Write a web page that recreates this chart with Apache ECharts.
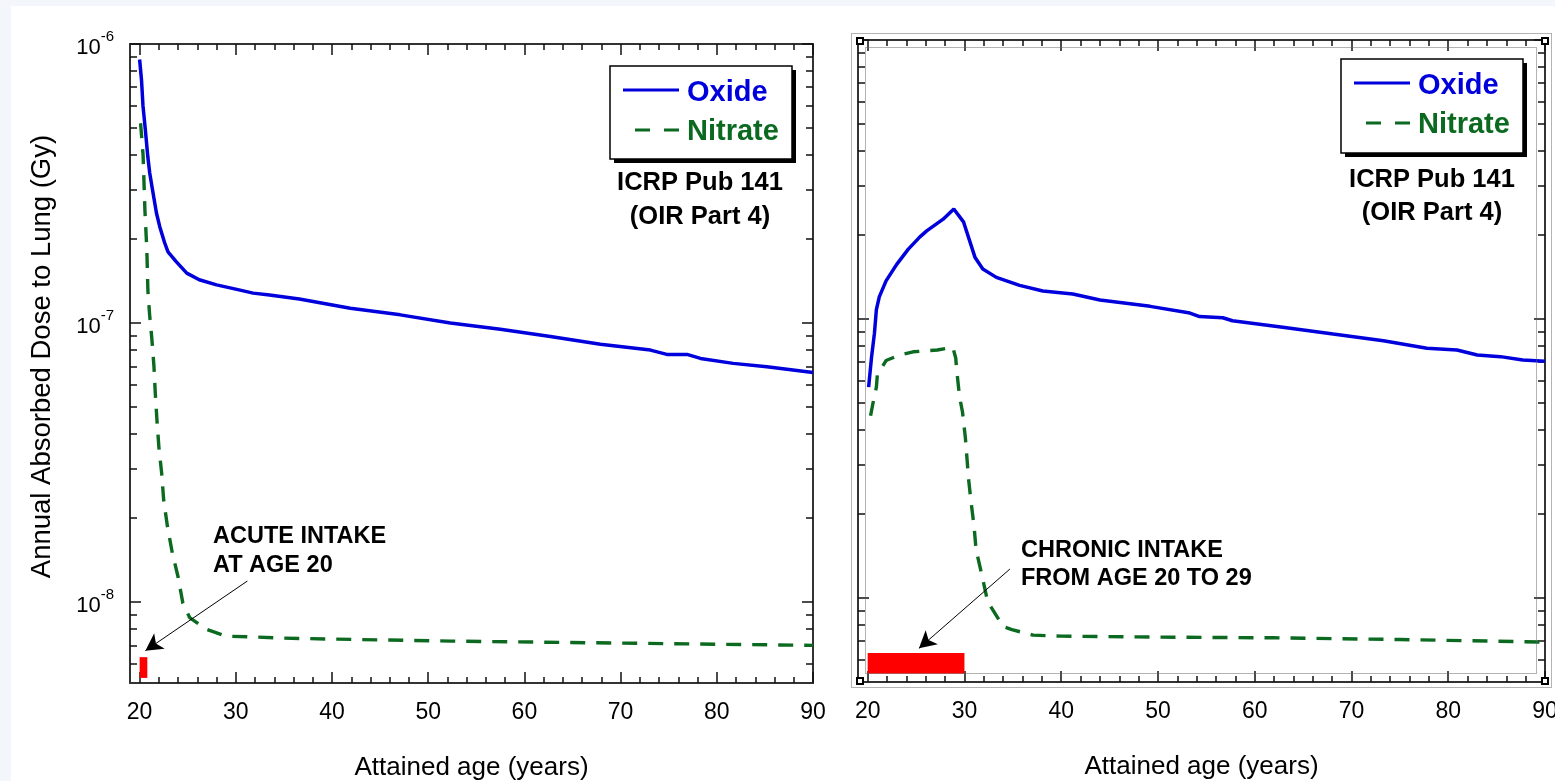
<!DOCTYPE html>
<html>
<head>
<meta charset="utf-8">
<script src="https://cdn.jsdelivr.net/npm/echarts@6/dist/echarts.min.js"></script>
<style>
html, body { margin: 0; padding: 0; background: #f3f6fb; }
#chart { width: 1555px; height: 781px; }
</style>
</head>
<body>
<div id="chart"></div>
<script>
// 急性摄入 (左图)
var acuteOxideAge = [20.0, 20.2, 20.35, 20.6, 20.85, 21.05, 21.4, 21.75, 22.1, 22.6, 22.95, 23.8, 24.9, 26.2, 28.0, 30.1, 31.8, 33.5, 36.6, 41.9, 47.1, 52.3, 57.5, 62.7, 67.9, 73.1, 74.8, 76.9, 78.3, 81.7, 85.2, 90.0];
var acuteOxide = [8.8e-7, 7.4e-7, 6.0e-7, 4.9e-7, 3.95e-7, 3.45e-7, 2.92e-7, 2.48e-7, 2.21e-7, 1.94e-7, 1.80e-7, 1.66e-7, 1.51e-7, 1.43e-7, 1.37e-7, 1.32e-7, 1.28e-7, 1.26e-7, 1.22e-7, 1.13e-7, 1.07e-7, 1.0e-7, 9.5e-8, 8.95e-8, 8.4e-8, 8.0e-8, 7.72e-8, 7.72e-8, 7.47e-8, 7.17e-8, 6.97e-8, 6.65e-8];
var acuteNitrateAge = [20.1, 20.36, 20.55, 20.75, 20.86, 21.04, 21.28, 21.49, 21.63, 21.8, 22.0, 22.29, 22.5, 22.9, 23.4, 24.0, 24.5, 25.2, 26.9, 29.0, 31.8, 34.9, 40.1, 52.3, 70.0, 90.0];
var acuteNitrate = [5.2e-7, 4.0e-7, 2.54e-7, 1.83e-7, 1.31e-7, 1.07e-7, 8.7e-8, 7.0e-8, 5.6e-8, 4.5e-8, 3.6e-8, 2.9e-8, 2.32e-8, 1.86e-8, 1.5e-8, 1.23e-8, 9.9e-9, 8.8e-9, 8.0e-9, 7.55e-9, 7.5e-9, 7.43e-9, 7.37e-9, 7.25e-9, 7.13e-9, 7.0e-9];

// 慢性摄入 (右图)
var chronicOxideAge = [20.1, 20.2, 20.4, 20.7, 20.9, 21.2, 21.9, 23.0, 24.2, 25.4, 26.1, 27.8, 28.9, 29.9, 31.1, 31.9, 33.3, 35.7, 38.1, 41.2, 44.0, 49.2, 53.3, 54.3, 56.7, 57.7, 62.9, 68.1, 73.3, 77.8, 80.9, 83.0, 85.4, 87.7, 90.0];
var chronicOxide = [5.7e-8, 6.2e-8, 7.3e-8, 8.9e-8, 1.08e-7, 1.2e-7, 1.37e-7, 1.57e-7, 1.78e-7, 1.97e-7, 2.07e-7, 2.28e-7, 2.48e-7, 2.23e-7, 1.66e-7, 1.51e-7, 1.41e-7, 1.32e-7, 1.26e-7, 1.23e-7, 1.17e-7, 1.11e-7, 1.05e-7, 1.02e-7, 1.01e-7, 9.86e-8, 9.34e-8, 8.83e-8, 8.36e-8, 7.85e-8, 7.74e-8, 7.43e-8, 7.33e-8, 7.13e-8, 7.05e-8];
var chronicNitrateAge = [20.3, 20.6, 20.9, 21.0, 21.9, 23.3, 24.7, 26.1, 27.2, 28.8, 29.1, 29.2, 29.5, 29.8, 30.1, 30.3, 30.4, 30.7, 31.0, 31.2, 31.8, 32.4, 34.0, 34.9, 37.1, 40.0, 50.0, 62.0, 75.0, 90.0];
var chronicNitrate = [4.5e-8, 5.1e-8, 5.7e-8, 6.3e-8, 7.1e-8, 7.43e-8, 7.63e-8, 7.69e-8, 7.74e-8, 7.92e-8, 7.25e-8, 6.56e-8, 5.25e-8, 4.64e-8, 3.74e-8, 3.05e-8, 2.72e-8, 2.19e-8, 1.8e-8, 1.49e-8, 1.21e-8, 9.7e-9, 7.9e-9, 7.7e-9, 7.36e-9, 7.3e-9, 7.24e-9, 7.2e-9, 7.1e-9, 6.95e-9];

// 摄入期 (红色条) 和箭头
var acuteIntake = [20, 20.8];
var chronicIntake = [20, 30];
var intakeBand = [5.35e-9, 6.35e-9];
var acuteArrow = [[31.2, 1.19e-8], [20.6, 6.7e-9]];
var chronicArrow = [[34.7, 1.27e-8], [25.3, 6.6e-9]];

// 刻度
var majorX = [20, 30, 40, 50, 60, 70, 80, 90];
var minorX = [22, 24, 26, 28, 32, 34, 36, 38, 42, 44, 46, 48, 52, 54, 56, 58, 62, 64, 66, 68, 72, 74, 76, 78, 82, 84, 86, 88];
var majorY = [1e-8, 1e-7, 1e-6];
var minorY = [6e-9, 7e-9, 8e-9, 9e-9, 2e-8, 3e-8, 4e-8, 5e-8, 6e-8, 7e-8, 8e-8, 9e-8, 2e-7, 3e-7, 4e-7, 5e-7, 6e-7, 7e-7, 8e-7, 9e-7];

var FONT = 'Liberation Sans, Arial, sans-serif';
var BLUE = '#0000dd';
var GREEN = '#0b6a20';

function zip(xs, ys) {
  return xs.map(function (x, i) { return [x, ys[i]]; });
}

function xAxes(gi) {
  function ax(pos, ticks, len, line, labels) {
    var a = {
      type: 'value', gridIndex: gi, position: pos, min: 19, max: 90,
      splitLine: { show: false },
      axisLine: { show: line, onZero: false, lineStyle: { color: '#333', width: 2 } },
      axisTick: { show: true, inside: true, length: len, customValues: ticks, lineStyle: { color: '#111', width: 1.5 } },
      axisLabel: { show: false }
    };
    if (labels) {
      a.axisLabel = { show: true, customValues: majorX, margin: 18, fontSize: 23, color: '#000', fontFamily: FONT };
      a.name = 'Attained age (years)';
      a.nameLocation = 'middle';
      a.nameGap = 72;
      a.nameTextStyle = { fontSize: 26, color: '#000', fontFamily: FONT };
    }
    return a;
  }
  return [ax('bottom', majorX, 11, true, true), ax('bottom', minorX, 6, false, false),
          ax('top', majorX, 11, true, false), ax('top', minorX, 6, false, false)];
}

function yAxes(gi, yMin, withLabels) {
  function ax(pos, ticks, len, line, labels) {
    var a = {
      type: 'log', logBase: 10, gridIndex: gi, position: pos, min: yMin, max: 1e-6,
      splitLine: { show: false },
      axisLine: { show: line, lineStyle: { color: '#333', width: 2 } },
      axisTick: { show: true, inside: true, length: len, customValues: ticks, lineStyle: { color: '#111', width: 1.5 } },
      axisLabel: { show: false }
    };
    if (labels) {
      a.axisLabel = {
        show: true, customValues: majorY, margin: 16, color: '#000', fontFamily: FONT,
        formatter: function (v) { return '{b|10}{s|' + Math.round(Math.log10(v)) + '}'; },
        rich: {
          b: { fontSize: 22, fontFamily: FONT, color: '#000', lineHeight: 30, verticalAlign: 'bottom' },
          s: { fontSize: 15, fontFamily: FONT, color: '#000', lineHeight: 30, verticalAlign: 'top' }
        }
      };
      a.name = 'Annual Absorbed Dose to Lung (Gy)';
      a.nameLocation = 'middle';
      a.nameRotate = 90;
      a.nameGap = 74;
      a.nameTextStyle = { fontSize: 27.5, color: '#000', fontFamily: FONT, padding: [0, 0, 0, 14] };
    }
    return a;
  }
  return [ax('left', majorY, 11, true, withLabels), ax('left', minorY, 7, false, false),
          ax('right', majorY, 11, true, false), ax('right', minorY, 7, false, false)];
}

function intakeMarks(range, arrow) {
  return {
    markArea: {
      silent: true,
      itemStyle: { color: '#ff0000', opacity: 1 },
      data: [[{ coord: [range[0], intakeBand[0]] }, { coord: [range[1], intakeBand[1]] }]]
    },
    markLine: {
      silent: true, symbol: ['none', 'arrow'], symbolSize: [14, 17],
      label: { show: false },
      lineStyle: { color: '#000', width: 1, type: 'solid' },
      data: [[{ coord: arrow[0] }, { coord: arrow[1] }]]
    }
  };
}

function oxide(xi, ages, vals) {
  return { name: 'Oxide', type: 'line', xAxisIndex: xi, yAxisIndex: xi, data: zip(ages, vals),
    symbol: 'none', showSymbol: false, lineStyle: { color: BLUE, width: 3.5 }, itemStyle: { color: BLUE }, z: 3 };
}
function nitrate(xi, ages, vals, marks) {
  return Object.assign({ name: 'Nitrate', type: 'line', xAxisIndex: xi, yAxisIndex: xi, data: zip(ages, vals),
    symbol: 'none', showSymbol: false, lineStyle: { color: GREEN, width: 3.4, type: [15, 11] }, itemStyle: { color: GREEN } }, marks);
}

function txt(x, y, s, size, align, color) {
  return { type: 'text', x: x, y: y, z: 12, style: { text: s, fontSize: size, fontWeight: 'bold', fontFamily: FONT,
    fill: color || '#000', align: align || 'left', verticalAlign: 'middle' } };
}
function dotted(x, y, w, h) {
  return { type: 'rect', shape: { x: x, y: y, width: w, height: h },
    style: { fill: 'none', stroke: '#666', lineWidth: 1, lineDash: [1, 1] }, z: 10 };
}
function handle(x, y) {
  return { type: 'rect', shape: { x: x - 3, y: y - 3, width: 6, height: 6 },
    style: { fill: '#fff', stroke: '#000', lineWidth: 2 }, z: 11 };
}
// 图例框 (带阴影)
function legendBox(x, y, w, h) {
  return [
    { type: 'rect', z: 11, shape: { x: x + 4, y: y + 4, width: w, height: h }, style: { fill: '#000' } },
    { type: 'rect', z: 11, shape: { x: x, y: y, width: w, height: h }, style: { fill: '#fff', stroke: '#000', lineWidth: 1.5 } },
    { type: 'line', z: 12, shape: { x1: x + 13, y1: y + 24, x2: x + 69, y2: y + 24 }, style: { stroke: BLUE, lineWidth: 3 } },
    { type: 'line', z: 12, shape: { x1: x + 25, y1: y + 64, x2: x + 69, y2: y + 64 }, style: { stroke: GREEN, lineWidth: 3, lineDash: [15, 14] } },
    txt(x + 77, y + 27, 'Oxide', 29, 'left', BLUE),
    txt(x + 77, y + 66, 'Nitrate', 29, 'left', GREEN)
  ];
}

var chart = echarts.init(document.getElementById('chart'), null, { renderer: 'canvas' });
chart.setOption({
  animation: false,
  backgroundColor: 'transparent',
  grid: [
    { left: 130, top: 44, width: 683, height: 639, outerBoundsMode: 'none', containLabel: false },
    { left: 858, top: 40, width: 687, height: 642, outerBoundsMode: 'none', containLabel: false }
  ],
  xAxis: xAxes(0).concat(xAxes(1)),
  yAxis: yAxes(0, 5.13e-9, true).concat(yAxes(1, 5e-9, false)),
  series: [
    oxide(0, acuteOxideAge, acuteOxide),
    nitrate(0, acuteNitrateAge, acuteNitrate, intakeMarks(acuteIntake, acuteArrow)),
    oxide(4, chronicOxideAge, chronicOxide),
    nitrate(4, chronicNitrateAge, chronicNitrate, intakeMarks(chronicIntake, chronicArrow))
  ],
  graphic: [
    { type: 'rect', z: -10, silent: true, shape: { x: 11, y: 6, width: 1544, height: 775 }, style: { fill: '#fff' } },
    txt(700, 183, 'ICRP Pub 141', 25.5, 'center'),
    txt(700, 217, '(OIR Part 4)', 25.5, 'center'),
    txt(1432, 180, 'ICRP Pub 141', 25.5, 'center'),
    txt(1432, 213, '(OIR Part 4)', 25.5, 'center'),
    txt(213, 537, 'ACUTE INTAKE', 23.5),
    txt(213, 566, 'AT AGE 20', 23.5),
    txt(1021, 551, 'CHRONIC INTAKE', 23.5),
    txt(1021, 579, 'FROM AGE 20 TO 29', 23.5),
    dotted(851.5, 33.5, 700, 654),
    dotted(865.5, 47.5, 671, 626),
    handle(860, 41), handle(1545, 41), handle(860, 681), handle(1545, 681)
  ].concat(legendBox(610, 66, 182, 93), legendBox(1341, 59, 182, 94))
});
</script>
</body>
</html>
